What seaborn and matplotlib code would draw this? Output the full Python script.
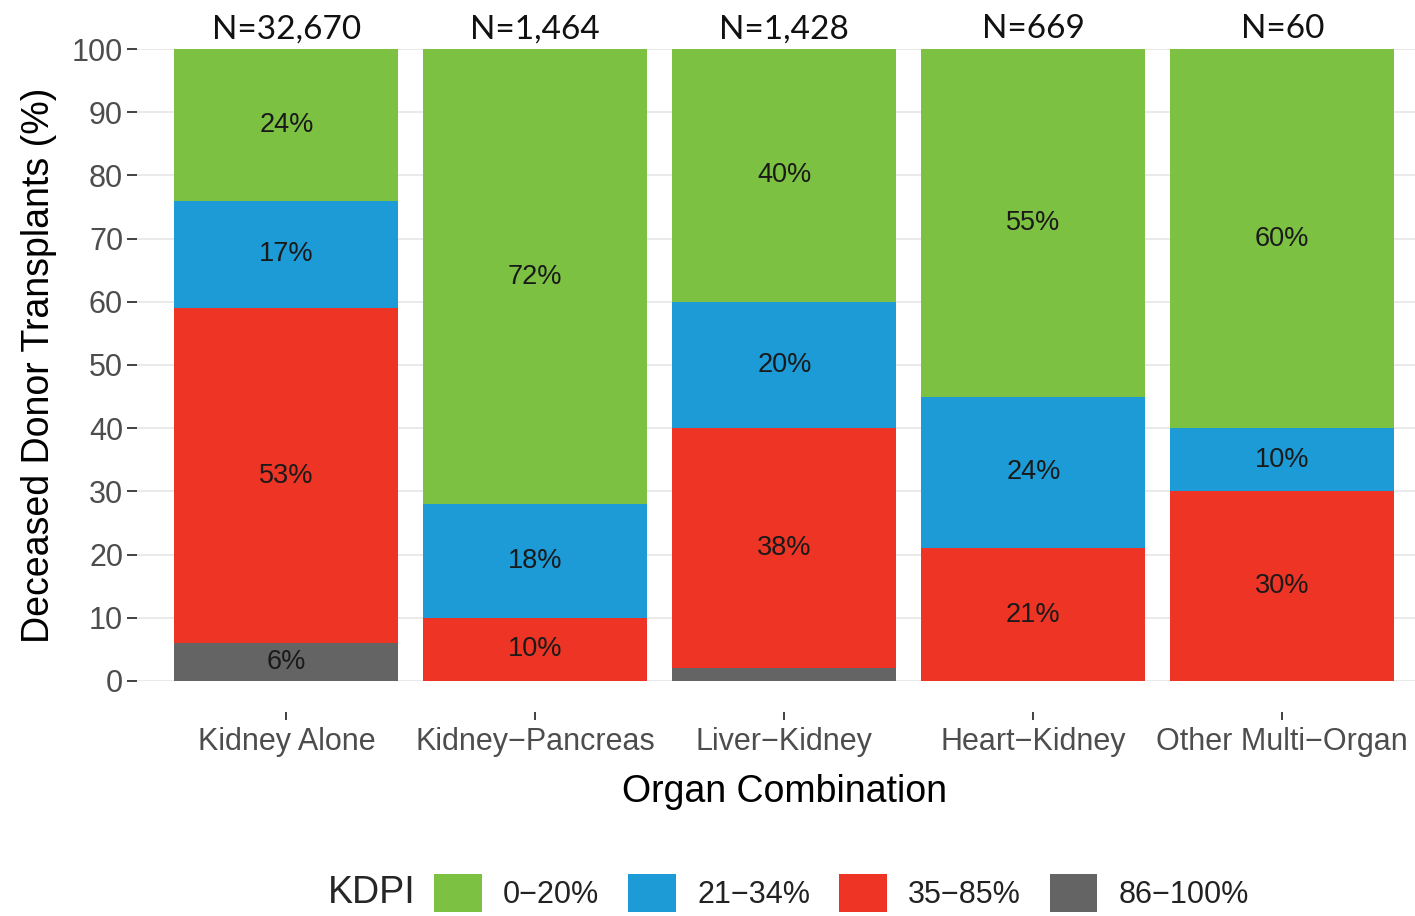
"""
KDPI distribution of deceased donor transplants by organ combination.
Stacked 100% bars drawn with seaborn, one layer per cumulative KDPI band.
"""

import numpy as np
import pandas as pd
import matplotlib
matplotlib.use("Agg")
import matplotlib.pyplot as plt
from matplotlib.patches import Patch
import seaborn as sns


# ──────────────────────────────────────────────
# Data
# ──────────────────────────────────────────────

combos = ["Kidney Alone", "Kidney\u2212Pancreas", "Liver\u2212Kidney",
          "Heart\u2212Kidney", "Other Multi\u2212Organ"]
n_labels = ["N=32,670", "N=1,464", "N=1,428", "N=669", "N=60"]

kdpi_bands = ["0\u221220%", "21\u221234%", "35\u221285%", "86\u2212100%"]
kdpi_0_20 = [24, 72, 40, 55, 60]
kdpi_21_34 = [17, 18, 20, 24, 10]
kdpi_35_85 = [53, 10, 38, 21, 30]
kdpi_86_100 = [6, 0, 2, 0, 0]

band_colors = ["#7cc142", "#1c9bd7", "#ee3424", "#646464"]


# ──────────────────────────────────────────────
# Build stacked layers (bottom to top: 86-100, 35-85, 21-34, 0-20)
# ──────────────────────────────────────────────

stack_order = [kdpi_86_100, kdpi_35_85, kdpi_21_34, kdpi_0_20]
stack_colors = band_colors[::-1]

bottoms = np.zeros(len(combos))
layers = []
for vals, col in zip(stack_order, stack_colors):
    vals = np.array(vals, dtype=float)
    layers.append((bottoms.copy(), vals, bottoms + vals, col))
    bottoms = bottoms + vals


# ──────────────────────────────────────────────
# Plot
# ──────────────────────────────────────────────

sns.set_theme(style="white")
plt.rcParams["font.family"] = ["Liberation Sans", "DejaVu Sans"]

fig = plt.figure(figsize=(14.15, 9.16), dpi=100)
ax = fig.add_axes([0.0968, 0.2566, 0.915, 0.6899])

# draw tallest cumulative layer first, smaller ones on top
for bottom, vals, top, col in reversed(layers):
    sns.barplot(x=combos, y=top, color=col, width=0.9, saturation=1,
                order=combos, ax=ax, zorder=2, edgecolor="none", linewidth=0)

# segment labels
for bottom, vals, top, col in layers:
    for i, v in enumerate(vals):
        if v >= 5:
            ax.text(i, bottom[i] + v / 2, f"{int(v)}%", ha="center",
                    va="center", fontsize=19.5, color="#1a1a1a", zorder=3)

# N labels above bars
for i, lab in enumerate(n_labels):
    ax.text(i, 103.1, lab, ha="center", va="center", fontsize=24,
            color="#111111", family=["Lato", "DejaVu Sans"], clip_on=False)

ax.set_xlim(-0.6, 4.6)
ax.set_ylim(0, 100)
ax.set_yticks(np.arange(0, 101, 10))
ax.yaxis.grid(True, color="#e6e6e6", linewidth=1.2, zorder=0)
ax.set_axisbelow(True)
for s in ax.spines.values():
    s.set_visible(False)
ax.spines["bottom"].set_position(("outward", 22))

ax.tick_params(axis="y", labelsize=22, labelcolor="#4d4d4d", length=7,
               width=1.3, color="#333333", left=True, pad=3)
ax.tick_params(axis="x", labelsize=22, labelcolor="#4d4d4d", length=6,
               width=1.3, color="#333333", bottom=True, pad=5.5)

ax.set_ylabel("Deceased Donor Transplants (%)", fontsize=27, color="black",
              labelpad=11)
ax.set_xlabel("Organ Combination", fontsize=27, color="black", labelpad=12)

# legend along the bottom
handles = [Patch(facecolor=c, edgecolor="none") for c in band_colors]
fig.text(0.2318, 0.025, "KDPI", fontsize=27, ha="left", va="center")
fig.legend(handles, kdpi_bands, loc="center left", bbox_to_anchor=(0.307, 0.025),
           ncol=4, frameon=False, fontsize=22, handlelength=1.55,
           handleheight=1.55, handletextpad=0.7, columnspacing=0.95,
           labelcolor="#222222", borderpad=0, borderaxespad=0)

fig.savefig("out.png", dpi=100)
